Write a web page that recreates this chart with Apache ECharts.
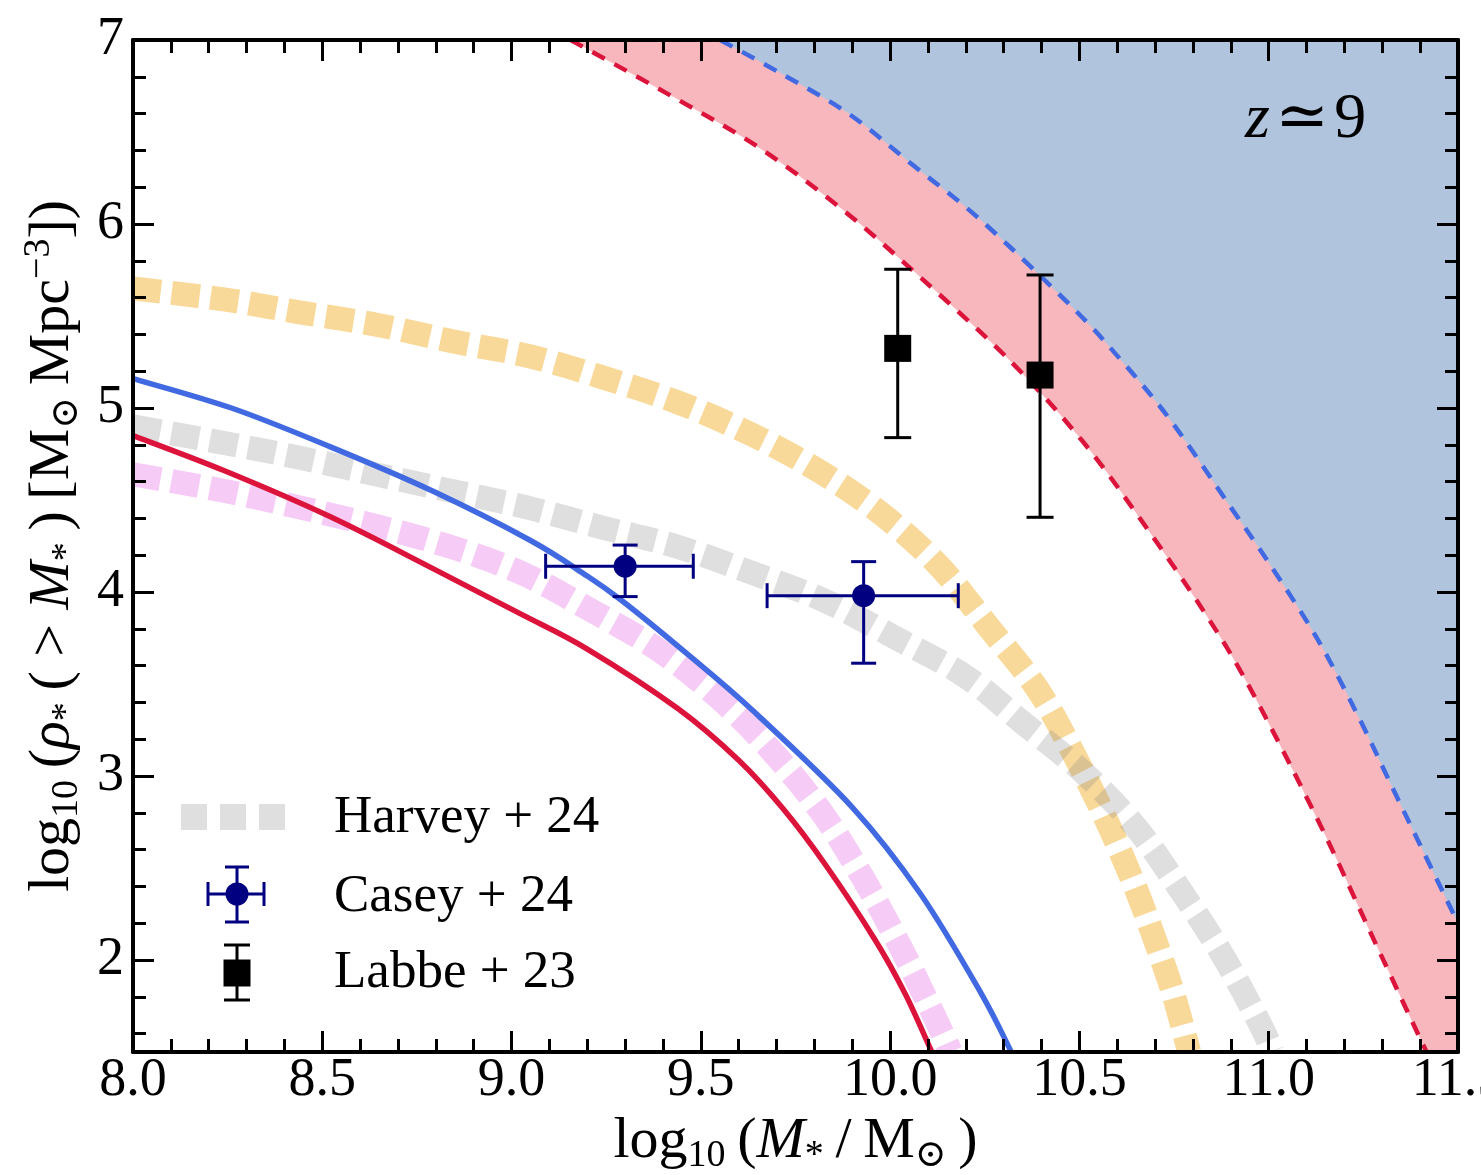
<!DOCTYPE html>
<html><head><meta charset="utf-8">
<script src="https://cdn.jsdelivr.net/npm/echarts@6/dist/echarts.min.js"></script>
<style>html,body{margin:0;padding:0;background:#fff}#c{width:1481px;height:1175px}</style>
</head><body><div id="c"></div>
<script>
// ---------- data ----------
const xRange = [8, 11.5];
const yRange = [1.5, 7];
const xTicks = [8.0, 8.5, 9.0, 9.5, 10.0, 10.5, 11.0, 11.5];
const yTicks = [2, 3, 4, 5, 6, 7];
const yMinorTicks = [1.6,1.8,2.2,2.4,2.6,2.8,3.2,3.4,3.6,3.8,4.2,4.4,4.6,4.8,5.2,5.4,5.6,5.8,6.2,6.4,6.6,6.8];

const redSolid = [[8.0,4.85],[8.24,4.66],[8.52,4.41],[8.79,4.13],[9.02,3.885],[9.2,3.69],[9.44,3.365],[9.6,3.085],[9.72,2.815],[9.83,2.515],[9.96,2.11],[10.04,1.815],[10.11,1.5]];
const blueSolid = [[8.0,5.16],[8.26,5.0],[8.52,4.79],[8.79,4.55],[9.05,4.28],[9.19,4.10],[9.29,3.955],[9.46,3.67],[9.64,3.35],[9.9,2.83],[10.08,2.36],[10.24,1.82],[10.32,1.5]];
const pinkDash = [[8.0,4.64],[8.24,4.55],[8.44,4.46],[8.64,4.36],[8.84,4.245],[9.03,4.10],[9.21,3.90],[9.385,3.69],[9.55,3.42],[9.69,3.13],[9.82,2.80],[9.93,2.44],[10.03,2.06],[10.12,1.68],[10.16,1.5]];
const grayDash = [[8.0,4.90],[8.24,4.81],[8.44,4.73],[8.64,4.64],[8.84,4.55],[9.04,4.46],[9.24,4.35],[9.44,4.245],[9.64,4.10],[9.83,3.95],[10.01,3.755],[10.2,3.54],[10.35,3.29],[10.51,3.02],[10.65,2.72],[10.77,2.37],[10.88,2.02],[10.98,1.64],[11.01,1.5]];
const orangeDash = [[8.0,5.65],[8.24,5.59],[8.44,5.52],[8.65,5.45],[8.85,5.36],[9.05,5.28],[9.25,5.16],[9.44,5.03],[9.63,4.86],[9.81,4.66],[9.98,4.42],[10.13,4.14],[10.26,3.81],[10.39,3.47],[10.49,3.10],[10.58,2.72],[10.66,2.33],[10.73,1.93],[10.76,1.73],[10.79,1.5]];
const bandLower = [[9.156,7.0],[9.41,6.71],[9.65,6.42],[9.87,6.085],[10.08,5.71],[10.32,5.25],[10.51,4.815],[10.67,4.37],[10.83,3.89],[10.95,3.48],[11.13,2.76],[11.28,2.10],[11.41,1.53],[11.5,1.15]];
const bandUpper = [[9.551,7.0],[9.71,6.82],[9.89,6.60],[10.06,6.32],[10.24,6.02],[10.48,5.55],[10.61,5.26],[10.74,4.935],[10.9,4.46],[11.0,4.16],[11.13,3.74],[11.24,3.31],[11.34,2.88],[11.5,2.2]];

const caseyX = [9.30, 9.93];
const caseyY = [4.14, 3.98];
const caseyXLo = [9.09, 9.675];
const caseyXHi = [9.48, 10.18];
const caseyYLo = [3.975, 3.613];
const caseyYHi = [4.255, 4.165];

const labbeX = [10.02, 10.396];
const labbeY = [5.324, 5.179];
const labbeYLo = [4.839, 4.406];
const labbeYHi = [5.754, 5.723];

const legendNames = ['Harvey + 24', 'Casey + 24', 'Labbe + 23'];

// ---------- styling ----------
const SERIF = '"Liberation Serif", "DejaVu Serif", serif';
const C_RED = '#dc143c', C_BLUE = '#4169e1', C_NAVY = '#000080';
const C_ORANGE = 'rgba(240,160,0,0.40)', C_GRAY = 'rgba(128,128,128,0.25)', C_PINK = 'rgba(232,128,232,0.40)';
const C_BANDPINK = '#f8b6bd', C_BANDBLUE = '#b0c4de';

const chart = echarts.init(document.getElementById('c'), null, {renderer: 'canvas'});

// Smooth path through pixel points (Catmull-Rom -> cubic Bezier)
function crPath(pts) {
  let d = 'M' + pts[0][0].toFixed(2) + ' ' + pts[0][1].toFixed(2);
  for (let i = 0; i < pts.length - 1; i++) {
    const p0 = pts[i - 1] || pts[i], p1 = pts[i], p2 = pts[i + 1], p3 = pts[i + 2] || pts[i + 1];
    const c1x = p1[0] + (p2[0] - p0[0]) / 6, c1y = p1[1] + (p2[1] - p0[1]) / 6;
    const c2x = p2[0] - (p3[0] - p1[0]) / 6, c2y = p2[1] - (p3[1] - p1[1]) / 6;
    d += ' C' + c1x.toFixed(2) + ' ' + c1y.toFixed(2) + ' ' + c2x.toFixed(2) + ' ' + c2y.toFixed(2) + ' ' + p2[0].toFixed(2) + ' ' + p2[1].toFixed(2);
  }
  return d;
}

function curveSeries(data, color, width, dash, z, fillColor) {
  return {
    type: 'custom', xAxisIndex: 0, yAxisIndex: 0, z: z, silent: true, clip: true,
    data: data, encode: {x: 0, y: 1},
    renderItem: function (params, api) {
      if (params.dataIndex !== 0) return;
      const pts = data.map(p => api.coord(p));
      const d = crPath(pts);
      const children = [];
      if (fillColor) {
        const top = api.coord([data[0][0], yRange[1]])[1];
        const dFill = d + ' L' + pts[pts.length - 1][0].toFixed(2) + ' ' + top.toFixed(2) +
                      ' L' + pts[0][0].toFixed(2) + ' ' + top.toFixed(2) + ' Z';
        children.push({type: 'path', shape: {pathData: dFill}, style: {fill: fillColor, stroke: null}});
      }
      children.push({type: 'path', shape: {pathData: d},
        style: {fill: null, stroke: color, lineWidth: width, lineDash: dash || null, lineCap: 'butt', lineJoin: 'round'}});
      return {type: 'group', children: children};
    }
  };
}

function errorBarItem(color, lw, cap, marker, size) {
  return function (params, api) {
    const x = api.value(0), y = api.value(1);
    const p = api.coord([x, y]);
    const xl = api.coord([api.value(2), y])[0], xh = api.coord([api.value(3), y])[0];
    const yl = api.coord([x, api.value(4)])[1], yh = api.coord([x, api.value(5)])[1];
    const st = {stroke: color, lineWidth: lw};
    const ch = [
      {type: 'line', shape: {x1: p[0], y1: yl, x2: p[0], y2: yh}, style: st},
      {type: 'line', shape: {x1: p[0] - cap / 2, y1: yl, x2: p[0] + cap / 2, y2: yl}, style: st},
      {type: 'line', shape: {x1: p[0] - cap / 2, y1: yh, x2: p[0] + cap / 2, y2: yh}, style: st}
    ];
    if (xh - xl > 1) {
      ch.push({type: 'line', shape: {x1: xl, y1: p[1], x2: xh, y2: p[1]}, style: st});
      ch.push({type: 'line', shape: {x1: xl, y1: p[1] - cap / 2, x2: xl, y2: p[1] + cap / 2}, style: st});
      ch.push({type: 'line', shape: {x1: xh, y1: p[1] - cap / 2, x2: xh, y2: p[1] + cap / 2}, style: st});
    }
    if (marker === 'circle') ch.push({type: 'circle', shape: {cx: p[0], cy: p[1], r: size / 2}, style: {fill: color}});
    else ch.push({type: 'rect', shape: {x: p[0] - size / 2, y: p[1] - size / 2, width: size, height: size}, style: {fill: color}});
    return {type: 'group', children: ch};
  };
}

const tickStyle = {color: '#000', width: 3};
const titleRich = {
  r: {fontSize: 58, fontFamily: SERIF, color: '#000', lineHeight: 66, verticalAlign: 'middle'},
  i: {fontSize: 58, fontFamily: SERIF, fontStyle: 'italic', color: '#000', lineHeight: 66, verticalAlign: 'middle'},
  s: {fontSize: 38, fontFamily: SERIF, color: '#000', lineHeight: 38, verticalAlign: 'bottom'},
  p: {fontSize: 38, fontFamily: SERIF, color: '#000', lineHeight: 38, verticalAlign: 'top'}
};
function xAx(pos, labels) {
  return {
    type: 'value', min: xRange[0], max: xRange[1], interval: 0.5, position: pos, z: 10,
    axisLine: {show: true, onZero: false, lineStyle: {color: '#000', width: 4}},
    axisTick: {show: true, inside: true, length: 21, lineStyle: tickStyle},
    minorTick: {show: true, splitNumber: 5, length: 13, lineStyle: tickStyle},
    splitLine: {show: false}, minorSplitLine: {show: false},
    axisLabel: labels ? {show: true, customValues: xTicks, formatter: v => Number(v).toFixed(1), fontSize: 54, fontFamily: SERIF, color: '#000', margin: 2, showMinLabel: true, showMaxLabel: true, hideOverlap: false} : {show: false},
    name: labels ? '{r|log}{s|10}{r|\u2009(}{i|M}{s|*}{r|\u2009/\u2009M}{s|⊙}{r|\u2009)}' : '',
    nameLocation: 'middle', nameGap: 44,
    nameTextStyle: {rich: titleRich}
  };
}
function yAx(pos, ticks, len, main, labels) {
  return {
    type: 'value', min: yRange[0], max: yRange[1], position: pos, z: 10,
    axisLine: {show: main, onZero: false, lineStyle: {color: '#000', width: 4}},
    axisTick: {show: true, inside: true, length: len, customValues: ticks, lineStyle: tickStyle},
    splitLine: {show: false},
    axisLabel: labels ? {show: true, customValues: yTicks, formatter: v => String(v), fontSize: 54, fontFamily: SERIF, color: '#000', margin: 9} : {show: false},
    name: labels ? '{r|log}{s|10}{r|\u2009(}{i|ρ}{s|*}{r|\u2009( > }{i|M}{s|*}{r|\u2009)\u2009[M}{s|⊙}{r|\u2009Mpc}{p|−3}{r|])}' : '',
    nameLocation: 'middle', nameRotate: 90, nameGap: 33,
    nameTextStyle: {rich: titleRich}
  };
}

const caseyData = caseyX.map((x, i) => [x, caseyY[i], caseyXLo[i], caseyXHi[i], caseyYLo[i], caseyYHi[i]]);
const labbeData = labbeX.map((x, i) => [x, labbeY[i], x, x, labbeYLo[i], labbeYHi[i]]);

const legText = (t, y) => ({type: 'text', x: 334, y: y, z: 20,
  style: {text: t, font: '53px ' + SERIF, fill: '#000', textVerticalAlign: 'middle'}});

const option = {
  animation: false,
  backgroundColor: '#fff',
  grid: {left: 133, right: 23, top: 40, bottom: 123, containLabel: false, outerBoundsMode: 'none'},
  xAxis: [xAx('bottom', true), xAx('top', false)],
  yAxis: [yAx('left', yTicks, 21, true, true), yAx('left', yMinorTicks, 13, false, false),
          yAx('right', yTicks, 21, true, false), yAx('right', yMinorTicks, 13, false, false)],
  series: [
    curveSeries(bandLower, C_RED, 4.5, [14, 11], 1, C_BANDPINK),
    curveSeries(bandUpper, C_BLUE, 4.5, [14, 11], 1.5, C_BANDBLUE),
    curveSeries(orangeDash, C_ORANGE, 24, [28, 11], 2),
    curveSeries(grayDash, C_GRAY, 24, [28, 11], 2),
    curveSeries(pinkDash, C_PINK, 24, [28, 11], 2),
    curveSeries(redSolid, C_RED, 5.5, null, 3),
    curveSeries(blueSolid, C_BLUE, 5.5, null, 3),
    {type: 'custom', name: 'Casey + 24', xAxisIndex: 0, yAxisIndex: 0, z: 5, data: caseyData,
      encode: {x: [0, 2, 3], y: [1, 4, 5]}, renderItem: errorBarItem(C_NAVY, 3, 25, 'circle', 23)},
    {type: 'custom', name: 'Labbe + 23', xAxisIndex: 0, yAxisIndex: 0, z: 5, data: labbeData,
      encode: {x: [0, 2, 3], y: [1, 4, 5]}, renderItem: errorBarItem('#000', 3, 27, 'rect', 27)}
  ],
  graphic: [
    {type: 'text', x: 1245, y: 120, z: 20, style: {text: '{i|z}{r|\u200a≃\u200a9}', textVerticalAlign: 'middle',
      rich: {i: {fontSize: 64, fontFamily: SERIF, fontStyle: 'italic', fill: '#000'},
             r: {fontSize: 64, fontFamily: SERIF, fill: '#000'}}}},
    {type: 'line', z: 20, shape: {x1: 181, y1: 817, x2: 285, y2: 817},
      style: {stroke: C_GRAY, lineWidth: 26, lineDash: [26, 13], lineCap: 'butt'}},
    {type: 'group', z: 20, children: [
      {type: 'line', shape: {x1: 208, y1: 894, x2: 264, y2: 894}, style: {stroke: C_NAVY, lineWidth: 3}},
      {type: 'line', shape: {x1: 208, y1: 882, x2: 208, y2: 906}, style: {stroke: C_NAVY, lineWidth: 3}},
      {type: 'line', shape: {x1: 264, y1: 882, x2: 264, y2: 906}, style: {stroke: C_NAVY, lineWidth: 3}},
      {type: 'line', shape: {x1: 237, y1: 867, x2: 237, y2: 922}, style: {stroke: C_NAVY, lineWidth: 3}},
      {type: 'line', shape: {x1: 225, y1: 867, x2: 249, y2: 867}, style: {stroke: C_NAVY, lineWidth: 3}},
      {type: 'line', shape: {x1: 225, y1: 922, x2: 249, y2: 922}, style: {stroke: C_NAVY, lineWidth: 3}},
      {type: 'circle', shape: {cx: 237, cy: 894, r: 11.5}, style: {fill: C_NAVY}}
    ]},
    {type: 'group', z: 20, children: [
      {type: 'line', shape: {x1: 237, y1: 945, x2: 237, y2: 1000}, style: {stroke: '#000', lineWidth: 3}},
      {type: 'line', shape: {x1: 224, y1: 945, x2: 250, y2: 945}, style: {stroke: '#000', lineWidth: 3}},
      {type: 'line', shape: {x1: 224, y1: 1000, x2: 250, y2: 1000}, style: {stroke: '#000', lineWidth: 3}},
      {type: 'rect', shape: {x: 223.5, y: 959.5, width: 27, height: 27}, style: {fill: '#000'}}
    ]},
    legText(legendNames[0], 818),
    legText(legendNames[1], 897),
    legText(legendNames[2], 973)
  ]
};
chart.setOption(option);
</script>
</body></html>
